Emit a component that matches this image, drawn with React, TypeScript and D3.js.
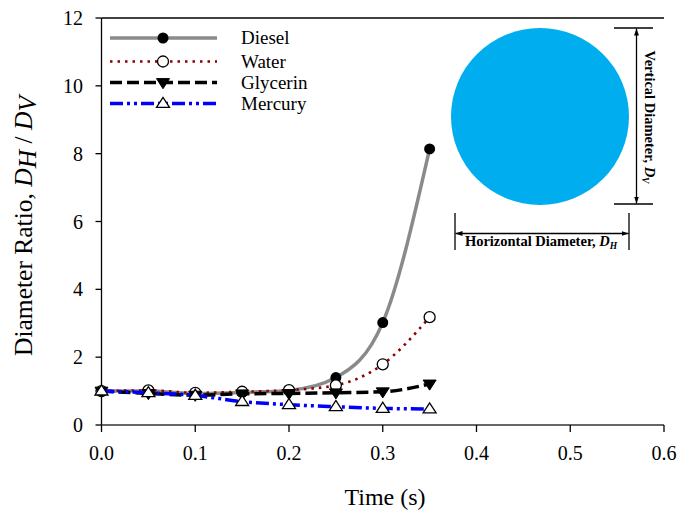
import React from "react";
import * as d3 from "d3";

const times = [0, 0.05, 0.1, 0.15, 0.2, 0.25, 0.3, 0.35];
const diesel = [1.0, 1.0, 0.93, 0.96, 1.02, 1.4, 3.02, 8.14];
const water = [1.0, 1.02, 0.95, 0.98, 1.03, 1.17, 1.79, 3.18];
const glycerin = [1.0, 0.93, 0.88, 0.92, 0.93, 0.95, 0.98, 1.21];
const mercury = [1.0, 0.95, 0.87, 0.69, 0.6, 0.54, 0.49, 0.47];
const seriesNames = ["Diesel", "Water", "Glycerin", "Mercury"];
const xTicks = [0, 0.1, 0.2, 0.3, 0.4, 0.5, 0.6];
const yTicks = [0, 2, 4, 6, 8, 10, 12];

const W = 683;
const H = 513;
const FONT = "'Liberation Serif', 'Times New Roman', serif";

type Style = {
  color: string;
  dash: string;
  width: number;
  marker: "dot" | "circle" | "down" | "up";
  cap: "butt" | "round";
};

const styles: Style[] = [
  { color: "#8a8a8a", dash: "", width: 3.5, marker: "dot", cap: "butt" },
  { color: "#8b0000", dash: "2.5 5", width: 2.6, marker: "circle", cap: "butt" },
  { color: "#000000", dash: "12 5", width: 3.5, marker: "down", cap: "butt" },
  { color: "#0000ff", dash: "13 4 3 4 3 4", width: 3.5, marker: "up", cap: "butt" },
];

function Marker({ kind, cx, cy }: { kind: Style["marker"]; cx: number; cy: number }) {
  const r = 5.5;
  if (kind === "dot") return <circle cx={cx} cy={cy} r={r} fill="#000" />;
  if (kind === "circle")
    return <circle cx={cx} cy={cy} r={r} fill="#fff" stroke="#000" strokeWidth={1.3} />;
  const s = 6.5;
  if (kind === "down") {
    const p = `${cx - s},${cy - s * 0.6} ${cx + s},${cy - s * 0.6} ${cx},${cy + s * 0.95}`;
    return <polygon points={p} fill="#000" stroke="#000" strokeWidth={1} />;
  }
  const p = `${cx - s},${cy + s * 0.6} ${cx + s},${cy + s * 0.6} ${cx},${cy - s * 0.95}`;
  return <polygon points={p} fill="#fff" stroke="#000" strokeWidth={1.3} />;
}

export default function App() {
  const x = d3.scaleLinear().domain([0, 0.6]).range([101.5, 664]);
  const y = d3.scaleLinear().domain([0, 12]).range([425, 18]);
  const allSeries = [diesel, water, glycerin, mercury];
  const line = d3
    .line<number>()
    .x((_, i) => x(times[i]))
    .y((d) => y(d))
    .curve(d3.curveMonotoneX);

  const legendY = [38, 61.5, 82.5, 103.5];

  return (
    <svg
      width={W}
      height={H}
      style={{ position: "absolute", left: 0, top: 0, background: "#fff" }}
      fontFamily={FONT}
    >
      <defs>
        <marker id="arr" viewBox="0 0 10 10" refX="10" refY="5" markerWidth="7" markerHeight="7" orient="auto-start-reverse" markerUnits="userSpaceOnUse">
          <path d="M0,1.5 L10,5 L0,8.5 z" fill="#000" />
        </marker>
      </defs>
      <rect width={W} height={H} fill="#fff" />

      {/* axes */}
      <line x1={x(0)} x2={x(0)} y1={y(12)} y2={y(0)} stroke="#000" strokeWidth={1.3} />
      <line x1={x(0)} x2={x(0.6)} y1={y(0)} y2={y(0)} stroke="#333" strokeWidth={1.3} />
      <line x1={x(0)} x2={x(0.6)} y1={y(12)} y2={y(12)} stroke="#000" strokeWidth={1.3} />
      {yTicks.map((t) => (
        <g key={"y" + t}>
          <line x1={x(0) - 6} x2={x(0)} y1={y(t)} y2={y(t)} stroke="#000" strokeWidth={1.3} />
          <text x={83} y={y(t) + 7} textAnchor="end" fontSize={20}>
            {t}
          </text>
        </g>
      ))}
      {xTicks.map((t) => (
        <g key={"x" + t}>
          <line x1={x(t)} x2={x(t)} y1={y(0)} y2={y(0) + 7} stroke="#000" strokeWidth={1.3} />
          <text x={x(t)} y={460} textAnchor="middle" fontSize={20}>
            {d3.format(".1f")(t)}
          </text>
        </g>
      ))}
      <text x={385} y={505} textAnchor="middle" fontSize={24}>
        Time (s)
      </text>
      <text transform="translate(32,226) rotate(-90)" textAnchor="middle" fontSize={25.5}>
        Diameter Ratio,{" "}
        <tspan fontStyle="italic">D</tspan>
        <tspan fontStyle="italic" dy={4}>H</tspan>
        <tspan dy={-4}> / </tspan>
        <tspan fontStyle="italic">D</tspan>
        <tspan fontStyle="italic" dy={4}>V</tspan>
      </text>

      {/* series */}
      {allSeries.map((vals, si) => {
        const st = styles[si];
        return (
          <g key={seriesNames[si]}>
            <path
              d={line(vals) || ""}
              fill="none"
              stroke={st.color}
              strokeWidth={st.width}
              strokeDasharray={st.dash || undefined}
              strokeLinecap={st.cap}
            />
            {vals.map((v, i) => (
              <Marker key={i} kind={st.marker} cx={x(times[i])} cy={y(v)} />
            ))}
          </g>
        );
      })}

      {/* legend */}
      {seriesNames.map((name, si) => {
        const st = styles[si];
        const ly = legendY[si];
        return (
          <g key={"lg" + name}>
            <line
              x1={110}
              x2={217}
              y1={ly}
              y2={ly}
              stroke={st.color}
              strokeWidth={st.width}
              strokeDasharray={st.dash || undefined}
            />
            <Marker kind={st.marker} cx={163} cy={ly} />
            <text x={241} y={ly + 6} fontSize={19}>
              {name}
            </text>
          </g>
        );
      })}

      {/* droplet illustration */}
      <ellipse cx={540} cy={116.5} rx={89} ry={88.5} fill="#00aeef" />
      <line x1={614} x2={653} y1={28} y2={28} stroke="#000" strokeWidth={1.3} />
      <line x1={614} x2={653} y1={204} y2={204} stroke="#000" strokeWidth={1.3} />
      <line x1={636.5} x2={636.5} y1={28.5} y2={203.5} stroke="#000" strokeWidth={1.3} markerStart="url(#arr)" markerEnd="url(#arr)" />
      <text transform="translate(645,117) rotate(90)" textAnchor="middle" fontSize={14.5} fontWeight="bold">
        Vertical Diameter, <tspan fontStyle="italic">D</tspan>
        <tspan fontStyle="italic" fontSize={9.5} dy={3}>V</tspan>
      </text>
      <line x1={455} x2={455} y1={213} y2={250} stroke="#000" strokeWidth={1.3} />
      <line x1={629} x2={629} y1={213} y2={250} stroke="#000" strokeWidth={1.3} />
      <line x1={455.5} x2={628.5} y1={233.5} y2={233.5} stroke="#000" strokeWidth={1.3} markerStart="url(#arr)" markerEnd="url(#arr)" />
      <text x={541} y={246} textAnchor="middle" fontSize={14.5} fontWeight="bold">
        Horizontal Diameter, <tspan fontStyle="italic">D</tspan>
        <tspan fontStyle="italic" fontSize={9.5} dy={3}>H</tspan>
      </text>
    </svg>
  );
}
